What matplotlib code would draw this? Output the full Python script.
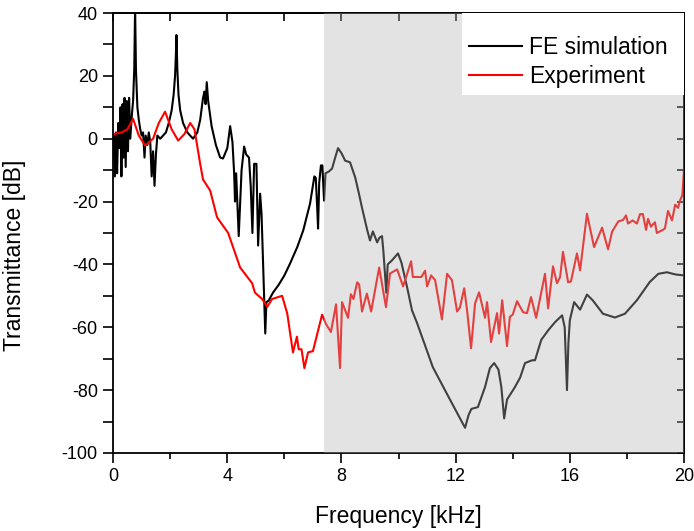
import matplotlib
matplotlib.use("Agg")
import matplotlib.pyplot as plt
from matplotlib.ticker import MultipleLocator
from matplotlib.patches import Rectangle

plt.rcParams['font.family'] = ['Liberation Sans', 'DejaVu Sans']
plt.rcParams['axes.unicode_minus'] = False

# ---- data ----
series_names = ["FE simulation", "Experiment"]

fe_freq = [0.00, 0.02, 0.06, 0.10, 0.14, 0.18, 0.22, 0.26, 0.29, 0.33, 0.37, 0.40, 0.44, 0.48,
           0.52, 0.56, 0.60, 0.66, 0.70, 0.74, 0.77, 0.80, 0.85, 0.90, 0.95, 1.00, 1.05, 1.10,
           1.14, 1.20, 1.25, 1.30, 1.35, 1.40, 1.45, 1.50, 1.55, 1.65, 1.75, 1.85, 1.95, 2.05,
           2.12, 2.17, 2.20, 2.22, 2.25, 2.29, 2.35, 2.45, 2.60, 2.80, 2.95, 3.05, 3.15, 3.20,
           3.24, 3.28, 3.33, 3.45, 3.60, 3.75, 3.85, 4.00, 4.10, 4.18, 4.24, 4.27, 4.31, 4.40,
           4.50, 4.59, 4.66, 4.76, 4.82, 4.88, 4.94, 5.02, 5.08, 5.15, 5.20, 5.27, 5.33, 5.37,
           5.45, 5.60, 5.80, 6.00, 6.20, 6.45, 6.66, 6.90, 7.05, 7.10, 7.15, 7.18, 7.22, 7.28,
           7.33, 7.39, 7.44, 7.55, 7.67, 7.78, 7.88, 8.00, 8.13, 8.30, 8.48, 8.60, 8.72, 8.90,
           9.00, 9.10, 9.25, 9.33, 9.42, 9.47, 9.57, 9.62, 9.77, 9.98, 10.10, 10.30, 10.47, 10.65,
           11.20, 11.80, 12.33, 12.45, 12.55, 12.78, 13.03, 13.20, 13.35, 13.50, 13.60, 13.70,
           13.80, 14.08, 14.26, 14.43, 14.68, 14.78, 15.00, 15.24, 15.48, 15.73, 15.82, 15.90,
           15.95, 16.00, 16.15, 16.36, 16.60, 16.80, 17.16, 17.58, 17.93, 18.35, 18.80, 19.10,
           19.40, 19.70, 20.00]
fe_db = [0, 1, -12, 2, -11, 5, -3, 10, -12, 11, -6, 13, -9, 12,
         -4, 13, 0, 8, 12, 22, 42, 22, 10, 6, 3, 1, 2, -6,
         1, -2, 2, -1, -12, -4, -15, -5, 1, 0, 1, 2, 5, 9,
         14, 20, 27, 33, 22, 14, 9, 5, 2, 0, 2, 6, 13, 15,
         11, 18, 12, 4, -2, -6, -6.3, -3, 4, -1, -11, -20, -11, -31,
         -10, -2.5, -5, -6, -15, -30, -8, -8, -34, -17.5, -24, -45, -62, -52,
         -51.5, -49, -46.5, -43.5, -39.7, -34.5, -29.2, -20.6, -12, -12.5, -22, -28.6, -14, -8.5,
         -8.5, -19.7, -11, -10.5, -9.5, -6, -3, -4.6, -7, -7.5, -12.3, -17, -22, -29,
         -32.4, -29.5, -33, -31.5, -31, -36, -49, -40, -38.7, -36.5, -39.4, -47.3, -54.6, -58.7,
         -72.7, -83, -92, -88, -86, -85.4, -79, -73, -71.4, -73.5, -79, -89,
         -83, -79, -76, -71.4, -70.5, -70.5, -64, -61, -58.4, -56.2, -60, -80,
         -65, -57.8, -52, -54.4, -49.6, -51.4, -55.7, -56.9, -55.7, -51.4, -45.6, -43,
         -42.5, -43.2, -43.5]

exp_freq = [0.00, 0.07, 0.30, 0.50, 0.70, 0.90, 1.12, 1.40, 1.60, 1.82, 2.05, 2.28, 2.50, 2.70,
            2.85, 3.05, 3.15, 3.40, 3.64, 4.03, 4.45, 4.87, 4.97, 5.22, 5.40, 5.57, 5.92, 6.10,
            6.30, 6.44, 6.50, 6.60, 6.70, 6.83, 7.00, 7.32, 7.46, 7.63, 7.81, 7.95, 8.02, 8.23,
            8.33, 8.42, 8.55, 8.62, 8.72, 8.89, 9.04, 9.32, 9.56, 9.70, 9.95, 10.16, 10.44, 10.50,
            10.80, 10.93, 11.00, 11.14, 11.28, 11.52, 11.70, 11.87, 12.05, 12.15, 12.30, 12.40,
            12.54, 12.68, 12.82, 13.03, 13.10, 13.24, 13.45, 13.52, 13.63, 13.80, 13.90, 14.00,
            14.15, 14.36, 14.50, 14.64, 14.82, 15.13, 15.24, 15.41, 15.55, 15.66, 15.76, 15.94,
            16.04, 16.25, 16.36, 16.60, 16.85, 17.13, 17.34, 17.48, 17.70, 17.86, 17.97, 18.04,
            18.20, 18.35, 18.46, 18.56, 18.67, 18.74, 18.84, 18.98, 19.05, 19.26, 19.33, 19.44,
            19.58, 19.69, 19.79, 19.86, 19.94, 20.00]
exp_db = [1, 1.6, 2, 3, 6.3, 1, -2.2, 0, 5, 8.6, 3, -0.6, 1.5, 5,
          3, -8, -13, -16.5, -25, -30, -41, -46, -49, -51, -53.5, -51, -50, -55.6,
          -68, -63, -67, -67, -73, -68, -67.6, -56, -59, -61.5, -52.7, -73, -52, -57,
          -49.5, -51, -45.7, -46.4, -55, -49.3, -55, -41, -53.6, -42.9, -41.6, -47, -39, -44,
          -44, -42, -47, -43.5, -45, -57.5, -43, -45, -55, -53.7, -47.6, -54.6,
          -66.7, -52.4, -48.9, -57, -52, -64.7, -55.5, -62, -51.4, -66, -56.7, -56,
          -51.7, -55.2, -55.5, -50.4, -57, -43, -54, -40.6, -46, -44, -36, -45.7,
          -45.4, -36.5, -41.9, -23.9, -34.5, -28.3, -35.2, -29.6, -26.3, -25.9, -24.4, -27,
          -26, -27, -24, -24, -29, -25.5, -28, -26.6, -30, -29, -28.6, -23,
          -26, -21, -22, -19.7, -18, -10]

shade_start = 7.39
x_ticks = [0, 4, 8, 12, 16, 20]
y_ticks = [-100, -80, -60, -40, -20, 0, 20, 40]

# ---- figure ----
fig = plt.figure(figsize=(6.94, 5.31), dpi=100)
ax = fig.add_axes([0.163, 0.147, 0.8226, 0.8285])

ax.plot(fe_freq, fe_db, color='black', lw=1.5, label=series_names[0], zorder=2)
ax.plot(exp_freq, exp_db, color='#ff0000', lw=1.5, label=series_names[1], zorder=2)
ax.axvspan(shade_start, 20, color=(0.70, 0.70, 0.70), alpha=0.36, lw=0, zorder=3)

ax.set_xlim(0, 20)
ax.set_ylim(-100, 40)
ax.set_xticks(x_ticks)
ax.set_yticks(y_ticks)
ax.xaxis.set_minor_locator(MultipleLocator(2))
ax.yaxis.set_minor_locator(MultipleLocator(10))
ax.tick_params(axis='both', which='major', direction='out', length=7, width=1.2,
               labelsize=13, pad=4)
ax.tick_params(axis='x', which='minor', direction='out', length=4, width=1.2)
ax.tick_params(axis='y', which='minor', direction='out', length=7, width=1.2)

top = ax.secondary_xaxis('top')
top.set_xticks(x_ticks)
top.xaxis.set_minor_locator(MultipleLocator(2))
top.tick_params(which='both', direction='in', length=6, width=1.2, labeltop=False)
right = ax.secondary_yaxis('right')
right.set_yticks(y_ticks)
right.yaxis.set_minor_locator(MultipleLocator(10))
right.tick_params(which='both', direction='in', length=5, width=1.2, labelright=False)
for a in (ax, top, right):
    for s in a.spines.values():
        s.set_linewidth(1.3)

ax.set_xlabel('Frequency [kHz]', fontsize=16.5, labelpad=14)
ax.set_ylabel('Transmittance [dB]', fontsize=16.5)
ax.yaxis.set_label_coords(-0.152, 0.45)

# white legend box in the upper right corner
ax.add_patch(Rectangle((0.611, 0.8136), 0.389, 0.1864, transform=ax.transAxes,
                       facecolor='white', edgecolor='none', zorder=4))
leg = ax.legend(loc='center left', bbox_to_anchor=(0.6235, 0.8886), fontsize=16.5,
                frameon=False, borderaxespad=0, borderpad=0, handlelength=2.3,
                labelspacing=0.3, handletextpad=0.3)
leg.set_zorder(5)

fig.savefig('out.png', dpi=100)
